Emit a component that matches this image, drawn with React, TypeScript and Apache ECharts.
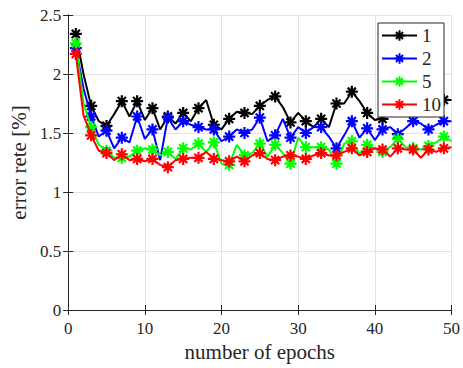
import React, { useEffect, useRef } from "react";
import * as echarts from "echarts";

const epochs = Array.from({ length: 50 }, (_, i) => i + 1);

const series1 = [
  2.34, 2.0, 1.73, 1.6, 1.56, 1.66, 1.77, 1.64, 1.77, 1.61,
  1.71, 1.53, 1.64, 1.58, 1.67, 1.6, 1.71, 1.78, 1.57, 1.53,
  1.62, 1.68, 1.67, 1.66, 1.73, 1.78, 1.81, 1.72, 1.59, 1.67,
  1.6, 1.55, 1.62, 1.55, 1.75, 1.75, 1.85, 1.77, 1.67, 1.61,
  1.62, 1.76, 1.8, 1.74, 1.78, 1.82, 1.76, 1.8, 1.78, 1.78,
];
const series2 = [
  2.22, 1.88, 1.64, 1.47, 1.52, 1.37, 1.46, 1.42, 1.64, 1.45,
  1.53, 1.27, 1.63, 1.53, 1.6, 1.57, 1.55, 1.53, 1.53, 1.43,
  1.47, 1.53, 1.5, 1.53, 1.63, 1.43, 1.48, 1.62, 1.46, 1.55,
  1.5, 1.55, 1.55, 1.47, 1.37, 1.48, 1.6, 1.46, 1.54, 1.44,
  1.53, 1.55, 1.49, 1.54, 1.6, 1.58, 1.53, 1.57, 1.6, 1.6,
];
const series5 = [
  2.26, 1.75, 1.55, 1.4, 1.35, 1.29, 1.29, 1.3, 1.35, 1.37,
  1.36, 1.31, 1.34, 1.28, 1.37, 1.36, 1.41, 1.34, 1.42, 1.24,
  1.23, 1.4, 1.31, 1.33, 1.41, 1.3, 1.4, 1.33, 1.24, 1.46,
  1.38, 1.38, 1.38, 1.36, 1.24, 1.41, 1.43, 1.32, 1.4, 1.37,
  1.34, 1.38, 1.45, 1.38, 1.37, 1.36, 1.39, 1.42, 1.47, 1.43,
];
const series10 = [
  2.17, 1.65, 1.48, 1.35, 1.33, 1.27, 1.32, 1.27, 1.28, 1.26,
  1.28, 1.23, 1.21, 1.27, 1.28, 1.29, 1.29, 1.34, 1.28, 1.27,
  1.26, 1.3, 1.26, 1.31, 1.33, 1.28, 1.27, 1.3, 1.31, 1.3,
  1.28, 1.31, 1.33, 1.31, 1.31, 1.34, 1.37, 1.31, 1.34, 1.37,
  1.36, 1.3, 1.37, 1.36, 1.36, 1.29, 1.36, 1.34, 1.37, 1.38,
];

const seriesNames = ["1", "2", "5", "10"];
const seriesColors = ["#000000", "#0000ff", "#00ff00", "#ff0000"];
const seriesValues = [series1, series2, series5, series10];

const STAR =
  "path://M5,0L5,10M0,5L10,5M1.6,1.6L8.4,8.4M1.6,8.4L8.4,1.6";
const FONT = "Liberation Serif";
const AXIS_COLOR = "#262626";
const GRID_COLOR = "#e3e3e3";

export default function App() {
  const ref = useRef<HTMLDivElement>(null);

  useEffect(() => {
    if (!ref.current) return;
    const chart = echarts.init(ref.current, null, { renderer: "svg" });

    const axisLine = { show: true, lineStyle: { color: AXIS_COLOR, width: 1 } };
    const tick = { show: true, inside: true, length: 5, lineStyle: { color: AXIS_COLOR } };

    const option: any = {
      animation: false,
      backgroundColor: "#ffffff",
      grid: { left: 62, right: 10, top: 15, bottom: 58, containLabel: false },
      legend: {
        orient: "vertical",
        left: 378,
        top: 23,
        data: seriesNames,
        itemWidth: 35,
        itemHeight: 13,
        itemGap: 4,
        padding: [3, 3, 3, 3],
        borderColor: AXIS_COLOR,
        borderWidth: 1,
        borderRadius: 0,
        backgroundColor: "#ffffff",
        textStyle: { fontFamily: FONT, fontSize: 19, color: AXIS_COLOR, padding: [0, 0, 0, 0] },
      },
      xAxis: [
        {
          type: "value",
          position: "bottom",
          min: 0,
          max: 50,
          interval: 10,
          axisLine,
          axisTick: tick,
          axisLabel: { fontFamily: FONT, fontSize: 17, color: AXIS_COLOR, margin: 10 },
          splitLine: { show: true, lineStyle: { color: GRID_COLOR, width: 1 } },
          name: "number of epochs",
          nameLocation: "middle",
          nameGap: 31,
          nameTextStyle: { fontFamily: FONT, fontSize: 21, color: AXIS_COLOR },
        },
        {
          type: "value",
          position: "top",
          min: 0,
          max: 50,
          interval: 10,
          axisLine,
          axisTick: tick,
          axisLabel: { show: false },
          splitLine: { show: false },
        },
      ],
      yAxis: [
        {
          type: "value",
          position: "left",
          min: 0,
          max: 2.5,
          interval: 0.5,
          axisLine,
          axisTick: tick,
          axisLabel: { fontFamily: FONT, fontSize: 17, color: AXIS_COLOR, margin: 7 },
          splitLine: { show: true, lineStyle: { color: GRID_COLOR, width: 1 } },
          name: "error rete [%]",
          nameLocation: "middle",
          nameRotate: 90,
          nameGap: 33,
          nameTextStyle: { fontFamily: FONT, fontSize: 21, color: AXIS_COLOR },
        },
        {
          type: "value",
          position: "right",
          min: 0,
          max: 2.5,
          interval: 0.5,
          axisLine,
          axisTick: tick,
          axisLabel: { show: false },
          splitLine: { show: false },
        },
      ],
      series: seriesNames.map((name, si) => ({
        name,
        type: "line",
        xAxisIndex: 0,
        yAxisIndex: 0,
        symbol: STAR,
        symbolSize: 12,
        showAllSymbol: true,
        lineStyle: { color: seriesColors[si], width: 2 },
        itemStyle: {
          color: seriesColors[si],
          borderColor: seriesColors[si],
          borderWidth: 2.2,
        },
        emphasis: { disabled: true },
        data: epochs.map((e, i) => ({
          value: [e, seriesValues[si][i]],
          symbol: i % 2 === 0 ? STAR : "none",
        })),
        z: 2 + si,
      })),
    };

    chart.setOption(option);
    return () => chart.dispose();
  }, []);

  return (
    <div
      ref={ref}
      style={{ position: "fixed", left: 0, top: 0, width: 463, height: 368, background: "#fff" }}
    />
  );
}
